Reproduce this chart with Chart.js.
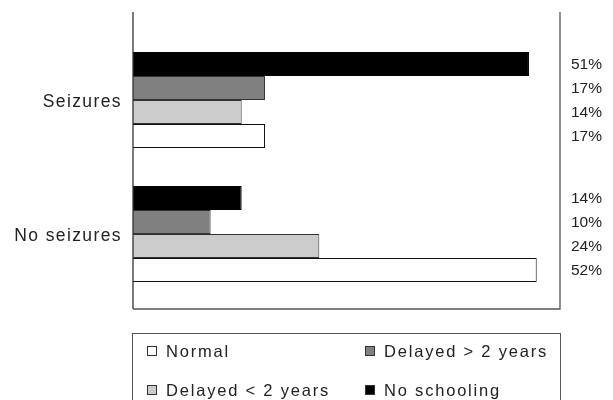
<!DOCTYPE html>
<html>
<head>
<meta charset="utf-8">
<script src="https://cdn.jsdelivr.net/npm/chart.js@4.4.0/dist/chart.umd.min.js"></script>
<style>
  html, body { margin: 0; padding: 0; background: #fff; }
  #wrap { position: relative; width: 613px; height: 400px; overflow: hidden; }
  #legend {
    position: absolute; left: 132px; top: 333px; width: 429px; height: 90px;
    border: 1px solid #555; border-bottom: none; box-sizing: border-box;
    font-family: "Liberation Sans", Arial, sans-serif; font-size: 16.5px; color: #222;
    letter-spacing: 1.8px;
  }
  .item { position: absolute; display: flex; align-items: center; height: 20px; }
  .box { width: 8px; height: 8px; border: 1px solid #333; margin-right: 9px; }
</style>
</head>
<body>
<div id="wrap">
  <canvas id="chart" width="613" height="400"></canvas>
  <div id="legend"></div>
</div>
<script>
// --- Datos ---
const categories = ['Seizures', 'No seizures'];
const noSchooling = [51, 14];
const delayedMore = [17, 10];
const delayedLess = [14, 24];
const normal = [17, 52];

const seriesNames = ['No schooling', 'Delayed > 2 years', 'Delayed < 2 years', 'Normal'];
const seriesColors = ['#000000', '#808080', '#cccccc', '#ffffff'];
const seriesBorders = ['#000000', '#333333', '#333333', '#111111'];
const seriesData = [noSchooling, delayedMore, delayedLess, normal];
const legendOrder = ['Normal', 'Delayed > 2 years', 'Delayed < 2 years', 'No schooling'];

Chart.defaults.font.family = '"Liberation Sans", Arial, sans-serif';
Chart.defaults.font.size = 17.5;
Chart.defaults.color = '#222';

// --- Espaciado de letras para las etiquetas del eje ---
const wideText = {
    id: 'wideText',
    beforeLayout(chart) { chart.ctx.letterSpacing = '1.4px'; },
    beforeDraw(chart) { chart.ctx.letterSpacing = '1.4px'; }
};

// --- Marco y etiquetas de porcentaje ---
const frameAndLabels = {
    id: 'frameAndLabels',
    afterDatasetsDraw(chart) {
        const { ctx, chartArea: a } = chart;
        ctx.save();
        ctx.lineWidth = 1.3;
        ctx.strokeStyle = '#333';
        ctx.beginPath();
        ctx.moveTo(a.left, a.top - 21);
        ctx.lineTo(a.left, a.bottom + 8);
        ctx.stroke();
        ctx.strokeStyle = '#555';
        ctx.beginPath();
        ctx.moveTo(a.left, a.bottom + 8);
        ctx.lineTo(a.right, a.bottom + 8);
        ctx.lineTo(a.right, a.top - 21);
        ctx.stroke();

        ctx.letterSpacing = '0px';
        ctx.fillStyle = '#222';
        ctx.font = '15.5px "Liberation Sans", Arial, sans-serif';
        ctx.textAlign = 'left';
        ctx.textBaseline = 'middle';
        chart.data.datasets.forEach((ds, i) => {
            chart.getDatasetMeta(i).data.forEach((bar, j) => {
                ctx.fillText(ds.data[j] + '%', a.right + 11, bar.y + 1);
            });
        });
        ctx.restore();
    }
};

new Chart(document.getElementById('chart'), {
    type: 'bar',
    data: {
        labels: categories,
        datasets: seriesNames.map((name, i) => ({
            label: name,
            data: seriesData[i],
            backgroundColor: seriesColors[i],
            borderColor: seriesBorders[i],
            borderWidth: 1,
            barPercentage: 1,
            categoryPercentage: 0.716
        }))
    },
    options: {
        indexAxis: 'y',
        responsive: false,
        animation: false,
        layout: { padding: { left: 0, right: 53, top: 33, bottom: 99 } },
        scales: {
            x: { display: false, min: 0, max: 55 },
            y: {
                grid: { display: false, drawTicks: false },
                border: { display: false },
                ticks: { padding: 11, labelOffset: 2, color: '#222' },
                afterFit(scale) { scale.width = 133; }
            }
        },
        plugins: {
            legend: { display: false },
            tooltip: { enabled: false }
        }
    },
    plugins: [wideText, frameAndLabels]
});

// --- Leyenda ---
const legend = document.getElementById('legend');
legendOrder.forEach((name, k) => {
    const i = seriesNames.indexOf(name);
    const item = document.createElement('div');
    item.className = 'item';
    item.style.left = (k % 2 === 0 ? 14 : 232) + 'px';
    item.style.top = (k < 2 ? 7 : 46) + 'px';
    const box = document.createElement('span');
    box.className = 'box';
    box.style.background = seriesColors[i];
    const txt = document.createElement('span');
    txt.textContent = name;
    item.appendChild(box);
    item.appendChild(txt);
    legend.appendChild(item);
});
</script>
</body>
</html>
